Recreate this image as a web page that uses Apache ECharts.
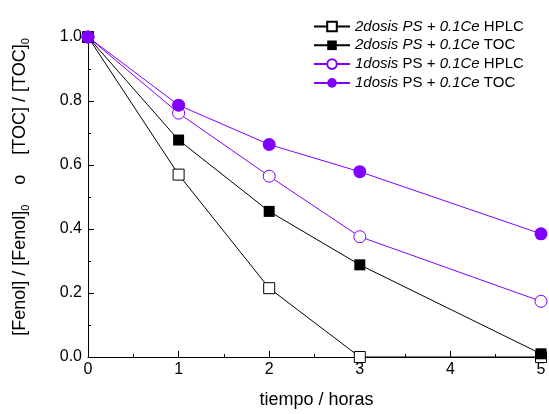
<!DOCTYPE html>
<html>
<head>
<meta charset="utf-8">
<script src="https://cdn.jsdelivr.net/npm/echarts@6/dist/echarts.min.js"></script>
<style>
 html,body{margin:0;padding:0;background:#fff;}
 #chart{width:549px;height:414px;}
</style>
</head>
<body>
<div id="chart"></div>
<script>
// datos
var horas = [0, 1, 2, 3, 5];
var ps2Hplc = [1.0, 0.57, 0.215, 0.0, 0.0];
var ps2Toc = [1.0, 0.678, 0.455, 0.288, 0.01];
var ps1Hplc = [1.0, 0.762, 0.565, 0.376, 0.174];
var ps1Toc = [1.0, 0.787, 0.664, 0.579, 0.385];
var xTicks = [0, 1, 2, 3, 4, 5];
var yTicks = [0.0, 0.2, 0.4, 0.6, 0.8, 1.0];

var nombres = [
  '2dosis PS + 0.1Ce HPLC',
  '2dosis PS + 0.1Ce TOC',
  '1dosis PS + 0.1Ce HPLC',
  '1dosis PS + 0.1Ce TOC'
];
var leyenda = {};
leyenda[nombres[0]] = '{i|2dosis PS + 0.1Ce} HPLC';
leyenda[nombres[1]] = '{i|2dosis PS + 0.1Ce} TOC';
leyenda[nombres[2]] = '{i|1dosis} PS + {i|0.1Ce} HPLC';
leyenda[nombres[3]] = '{i|1dosis} PS + {i|0.1Ce} TOC';

var morado = '#8000ff';
var fuente = 'Liberation Sans, Arial, sans-serif';

function pares(ys){
  return horas.map(function(x, i){ return [x, ys[i]]; });
}

var myChart = echarts.init(document.getElementById('chart'));
var option = {
  animation: false,
  backgroundColor: '#fff',
  textStyle: { fontFamily: fuente },
  grid: { left: 88, right: 8, top: 37, bottom: 55 },
  legend: {
    orient: 'vertical',
    left: 313,
    top: 18,
    padding: 0,
    itemWidth: 36,
    itemHeight: 12,
    itemGap: 1.8,
    data: nombres,
    formatter: function(n){ return leyenda[n]; },
    textStyle: {
      fontSize: 15,
      lineHeight: 17,
      color: '#000',
      fontFamily: fuente,
      rich: {
        i: { fontSize: 15, lineHeight: 17, fontStyle: 'italic', color: '#000', fontFamily: fuente }
      }
    }
  },
  xAxis: {
    type: 'value',
    min: 0, max: 5, interval: 1,
    name: 'tiempo / horas',
    nameLocation: 'middle',
    nameGap: 34,
    nameTextStyle: { fontSize: 18, color: '#000', padding: [0, 0, 0, 4] },
    axisLine: { lineStyle: { color: '#000', width: 1 } },
    axisTick: { inside: true, length: 6, lineStyle: { color: '#000' } },
    minorTick: { show: true, splitNumber: 2, length: 3, lineStyle: { color: '#000' } },
    axisLabel: { fontSize: 16, color: '#000', margin: 5,
      formatter: function(v){ return xTicks.indexOf(v) >= 0 ? String(v) : ''; } },
    splitLine: { show: false }
  },
  yAxis: {
    type: 'value',
    min: 0, max: 1, interval: 0.2,
    name: '{t|[Fenol] / [Fenol]}{s|0}{t|    o    [TOC] / [TOC]}{s|0}',
    nameLocation: 'middle',
    nameGap: 57,
    nameRotate: 90,
    nameTextStyle: {
      color: '#000',
      padding: [0, 0, 0, 20],
      rich: {
        t: { fontSize: 18, color: '#000', fontFamily: fuente, lineHeight: 22 },
        s: { fontSize: 11, color: '#000', fontFamily: fuente, lineHeight: 22, verticalAlign: 'bottom', padding: [10, 0, 0, 0] }
      }
    },
    axisLine: { show: true, lineStyle: { color: '#000', width: 1 } },
    axisTick: { show: true, inside: true, length: 6, lineStyle: { color: '#000' } },
    minorTick: { show: true, splitNumber: 2, length: 3, lineStyle: { color: '#000' } },
    axisLabel: { fontSize: 16, color: '#000', margin: 6,
      formatter: function(v){
        for (var k = 0; k < yTicks.length; k++) {
          if (Math.abs(yTicks[k] - v) < 1e-9) return yTicks[k].toFixed(1);
        }
        return '';
      } },
    splitLine: { show: false }
  },
  series: [
    {
      name: nombres[0], type: 'line', data: pares(ps2Hplc),
      symbol: 'rect', symbolSize: 11,
      lineStyle: { color: '#000', width: 1 },
      itemStyle: { color: '#fff', borderColor: '#000', borderWidth: 1 },
      z: 2
    },
    {
      name: nombres[1], type: 'line', data: pares(ps2Toc),
      symbol: 'rect', symbolSize: 11,
      lineStyle: { color: '#000', width: 1 },
      itemStyle: { color: '#000' },
      z: 3
    },
    {
      name: nombres[2], type: 'line', data: pares(ps1Hplc),
      symbol: 'circle', symbolSize: 12,
      lineStyle: { color: morado, width: 1 },
      itemStyle: { color: '#fff', borderColor: morado, borderWidth: 1 },
      z: 4
    },
    {
      name: nombres[3], type: 'line', data: pares(ps1Toc),
      symbol: 'circle', symbolSize: 13,
      lineStyle: { color: morado, width: 1 },
      itemStyle: { color: morado },
      z: 5
    }
  ]
};
myChart.setOption(option);
</script>
</body>
</html>
